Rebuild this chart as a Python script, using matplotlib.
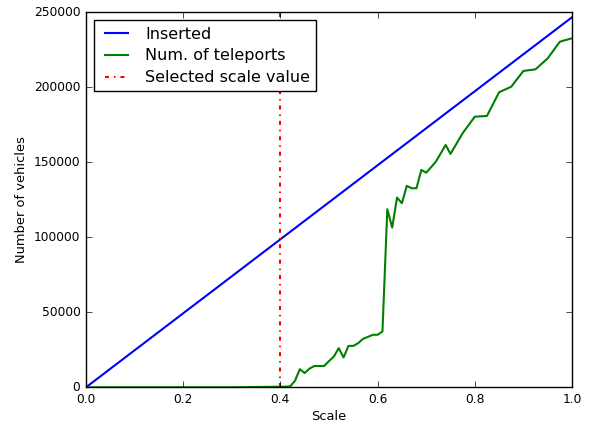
import matplotlib
matplotlib.use("Agg")
import matplotlib.pyplot as plt
import numpy as np

plt.style.use('classic')

# Data
scale_inserted = [0.0, 1.0]
inserted = [0, 246700]

scale = [0.0, 0.05, 0.1, 0.15, 0.2, 0.25, 0.3, 0.35, 0.375, 0.4, 0.41, 0.42,
         0.43, 0.44, 0.45, 0.46, 0.47, 0.48, 0.49, 0.50, 0.51, 0.52, 0.53,
         0.54, 0.55, 0.56, 0.57, 0.58, 0.59, 0.60, 0.61, 0.62, 0.63, 0.64,
         0.65, 0.66, 0.67, 0.68, 0.69, 0.70, 0.71, 0.72, 0.73, 0.74, 0.75,
         0.775, 0.80, 0.825, 0.85, 0.875, 0.90, 0.925, 0.95, 0.975, 1.0]
teleports = [0, 0, 0, 0, 0, 0, 0, 200, 300, 400, 400, 600,
             4300, 12100, 9500, 12500, 14200, 14200, 14200, 17500, 20500, 26100, 19900,
             27600, 27600, 29400, 32300, 33600, 35000, 35000, 37200, 118700, 106500, 126500,
             122700, 134300, 132700, 132700, 144900, 143100, 146700, 150500, 156000, 161600, 155600,
             169400, 180400, 180900, 196700, 200400, 210900, 212000, 219300, 230400, 232700]

selected_scale = 0.4

fig = plt.figure(figsize=(5.89, 4.25), dpi=100, facecolor='white')
ax = fig.add_axes([86 / 589, (425 - 387.3) / 425, (572 - 86) / 589, (387.3 - 12.3) / 425])

ax.plot(scale_inserted, inserted, color='b', lw=1.5, label='Inserted')
ax.plot(scale, teleports, color='g', lw=1.5, label='Num. of teleports')
red_line = ax.axvline(selected_scale, color='r', lw=1.5, ls='-.',
                      label='Selected scale value')
red_line.set_dashes((2.9, 3.6, 1.0, 3.6))

ax.set_xlim(0, 1.0)
ax.set_ylim(0, 250000)
ax.set_xticks([0.0, 0.2, 0.4, 0.6, 0.8, 1.0])
ax.set_yticks([0, 50000, 100000, 150000, 200000, 250000])
ax.tick_params(labelsize=8.8)
ax.set_xlabel('Scale', fontsize=9.4, labelpad=3)
ax.set_ylabel('Number of vehicles', fontsize=9.4, labelpad=4)

leg = ax.legend(loc='upper left', fontsize=11.5, labelspacing=0.42)

fig.savefig('out.png', dpi=100, facecolor='white')
